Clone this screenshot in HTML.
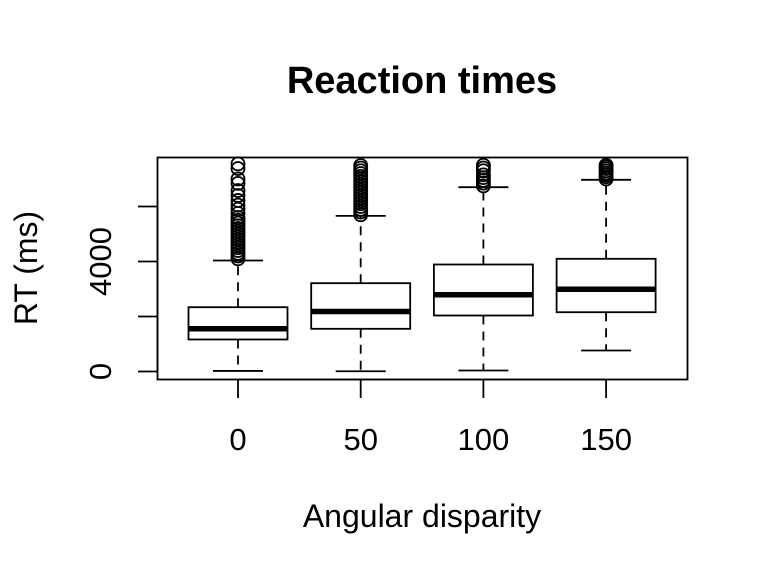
<!DOCTYPE html>
<html><head><meta charset="utf-8"><style>
body{margin:0;background:#fff}
svg{display:block;font-family:"Liberation Sans",Arial,sans-serif}
</style></head><body>
<svg id="chart" width="768" height="576" viewBox="0 0 768 576" xmlns="http://www.w3.org/2000/svg">
<rect width="768" height="576" fill="#fff"/>
<text x="422" y="93" text-anchor="middle" font-size="38" font-weight="bold">Reaction times</text>
<text x="422" y="527" text-anchor="middle" font-size="32">Angular disparity</text>
<text transform="translate(37,268) rotate(-90)" text-anchor="middle" font-size="32">RT (ms)</text>
<rect x="157.5" y="157.5" width="530" height="222" fill="none" stroke="#000" stroke-width="1.8"/>
<g id="marks"></g>
</svg>
<script>
const categories = ["0","50","100","150"];
const q1 = [1164, 1553, 2036, 2156];
const medians = [1553, 2182, 2789, 2993];
const q3 = [2338, 3211, 3891, 4098];
const whiskerLow = [20, 10, 36, 764];
const whiskerHigh = [4036, 5660, 6702, 6970];
const outliers0 = [4100,4200,4300,4400,4500,4600,4700,4800,4900,5000,5100,5200,5300,5400,5500,5600,5750,5900,6050,6220,6400,6580,6840,7000,7380,7550];
const outliers50 = [5700,5800,5900,6000,6100,6200,6300,6400,6500,6600,6700,6800,6900,7000,7100,7200,7300,7400,7490];
const outliers100 = [6750,6850,6950,7050,7150,7300,7400,7500];
const outliers150 = [7000,7080,7150,7220,7300,7380,7450,7500];
const outliers = [outliers0, outliers50, outliers100, outliers150];
const yTicks = [0,2000,4000,6000];
const yTickLabels = ["0","","4000",""];

const NS = "http://www.w3.org/2000/svg";
const g = document.getElementById("marks");
function y(v){ return 371.5 - v*55/2000; }
function x(i){ return 238 + i*122.7; }
function el(tag, attrs, parent){
  const e = document.createElementNS(NS, tag);
  for (const k in attrs) e.setAttribute(k, attrs[k]);
  (parent||g).appendChild(e); return e;
}
const SW = 1.8;
let ya = el("line",{x1:157.5,x2:157.5,y1:y(0),y2:y(6000),stroke:"#000","stroke-width":SW});


yTicks.forEach((t,i)=>{
  const tk = el("line",{x1:138,x2:157.5,y1:y(t),y2:y(t),stroke:"#000","stroke-width":SW});
  
  
  if (yTickLabels[i]) {
    const tx = el("text",{transform:`translate(111,${y(t)}) rotate(-90)`,"text-anchor":"middle","font-size":31});
    tx.textContent = yTickLabels[i];
    
    
  }
});
let xa = el("line",{x1:x(0),x2:x(3),y1:379.5,y2:379.5,stroke:"#000","stroke-width":SW});


categories.forEach((c,i)=>{
  const tk = el("line",{x1:x(i),x2:x(i),y1:379.5,y2:398,stroke:"#000","stroke-width":SW});
  
  
  const tx = el("text",{x:x(i),y:450,"text-anchor":"middle","font-size":31});
  tx.textContent = c;
  
  
  const cx = x(i), hw = 49.5, cw = 25;
  const grp = el("g",{});
  
  
  el("line",{x1:cx,x2:cx,y1:y(q3[i]),y2:y(whiskerHigh[i]),stroke:"#000","stroke-width":SW,"stroke-dasharray":"9,7"},grp);
  el("line",{x1:cx,x2:cx,y1:y(q1[i]),y2:y(whiskerLow[i]),stroke:"#000","stroke-width":SW,"stroke-dasharray":"9,7"},grp);
  el("line",{x1:cx-cw,x2:cx+cw,y1:y(whiskerHigh[i]),y2:y(whiskerHigh[i]),stroke:"#000","stroke-width":SW},grp);
  el("line",{x1:cx-cw,x2:cx+cw,y1:y(whiskerLow[i]),y2:y(whiskerLow[i]),stroke:"#000","stroke-width":SW},grp);
  el("rect",{x:cx-hw,y:y(q3[i]),width:2*hw,height:y(q1[i])-y(q3[i]),fill:"#fff",stroke:"#000","stroke-width":SW},grp);
  el("line",{x1:cx-hw,x2:cx+hw,y1:y(medians[i]),y2:y(medians[i]),stroke:"#000","stroke-width":5.5},grp);
  outliers[i].forEach(v=>{
    const o = el("circle",{cx:cx,cy:y(v),r:6.5,fill:"none",stroke:"#000","stroke-width":SW},grp);
    
    
  });
});
</script>
</body></html>
